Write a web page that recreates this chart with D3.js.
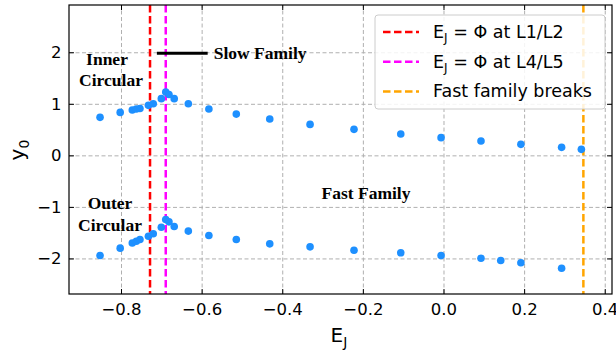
<!DOCTYPE html>
<html>
<head>
<meta charset="utf-8">
<script src="https://cdn.jsdelivr.net/npm/d3@7"></script>
<style>
body { margin: 0; background: #fff; }
text { font-family: "DejaVu Sans", sans-serif; }
.grid line { stroke: #b0b0b0; stroke-dasharray: 4,2.5; stroke-width: 1; }
.grid path { display: none; }
.axis path { display: none; }
.axis line { stroke: #000; }
.serif { font-family: "Liberation Serif", "DejaVu Serif", serif; font-weight: bold; }
</style>
</head>
<body>
<div id="chart-area"></div>
<script>
// Datos
var upperE = [-0.852, -0.802, -0.772, -0.762, -0.753, -0.732, -0.720, -0.700, -0.689, -0.681, -0.668, -0.633, -0.582, -0.514, -0.431, -0.331, -0.222, -0.106, -0.006, 0.093, 0.192, 0.293, 0.342];
var upperY = [0.737, 0.833, 0.88, 0.90, 0.91, 0.97, 1.0, 1.10, 1.23, 1.18, 1.10, 1.0, 0.90, 0.80, 0.705, 0.60, 0.504, 0.415, 0.343, 0.279, 0.213, 0.155, 0.116];
var lowerE = [-0.852, -0.802, -0.772, -0.762, -0.753, -0.732, -0.720, -0.700, -0.689, -0.681, -0.668, -0.633, -0.582, -0.514, -0.431, -0.331, -0.222, -0.106, -0.006, 0.093, 0.142, 0.192, 0.293];
var lowerY = [-1.944, -1.80, -1.70, -1.667, -1.634, -1.57, -1.52, -1.395, -1.246, -1.29, -1.38, -1.47, -1.556, -1.634, -1.717, -1.775, -1.84, -1.89, -1.944, -1.996, -2.04, -2.085, -2.19];
var xTicks = [-0.8, -0.6, -0.4, -0.2, 0.0, 0.2, 0.4];
var yTicks = [-2, -1, 0, 1, 2];
var vLines = [-0.728, -0.689, 0.347];
var vColors = ["#ff0000", "#ff00ff", "#ffa500"];
var legendLabels = ["at L1/L2", "at L4/L5", "Fast family breaks"];
var slowLine = [-0.711, -0.585];

var width = 543;
var height = 289;
var margin = {top: 5, right: 4, bottom: 60, left: 69};

var svg = d3.select("#chart-area")
    .append("svg")
    .attr("width", width + margin.left + margin.right)
    .attr("height", height + margin.top + margin.bottom);

var g = svg.append("g")
    .attr("transform", "translate(" + margin.left + "," + margin.top + ")");

var x = d3.scaleLinear().domain([-0.929, 0.418]).range([0, width]);
var y = d3.scaleLinear().domain([-2.69, 2.917]).range([height, 0]);

// Grid
g.append("g").attr("class", "grid")
    .attr("transform", "translate(0," + height + ")")
    .call(d3.axisBottom(x).tickValues(xTicks).tickSize(-height).tickFormat(""));
g.append("g").attr("class", "grid")
    .call(d3.axisLeft(y).tickValues(yTicks).tickSize(-width).tickFormat(""));

// Lineas verticales
vLines.forEach(function(v, i) {
    g.append("line")
        .attr("x1", x(v)).attr("x2", x(v))
        .attr("y1", 0).attr("y2", height)
        .attr("stroke", vColors[i])
        .attr("stroke-width", 2.5)
        .attr("stroke-dasharray", "7.5,3.5");
});

// Puntos
var pts = upperE.map(function(e, i) { return {e: e, y: upperY[i]}; })
    .concat(lowerE.map(function(e, i) { return {e: e, y: lowerY[i]}; }));
g.selectAll("circle").data(pts).enter().append("circle")
    .attr("cx", function(d) { return x(d.e); })
    .attr("cy", function(d) { return y(d.y); })
    .attr("r", 3.8)
    .attr("fill", "#1e90ff");

// Slow family
g.append("line")
    .attr("x1", x(slowLine[0])).attr("x2", x(slowLine[1]))
    .attr("y1", y(1.98)).attr("y2", y(1.98))
    .attr("stroke", "#000").attr("stroke-width", 3);
g.append("text").attr("class", "serif")
    .attr("x", x(slowLine[1]) + 6).attr("y", y(1.98) + 6)
    .attr("font-size", "17.5px").text("Slow Family");

// Anotaciones
function label(txt, cx, cy) {
    g.append("text").attr("class", "serif")
        .attr("x", cx - margin.left).attr("y", cy - margin.top + 6)
        .attr("text-anchor", "middle")
        .attr("font-size", "17.5px").text(txt);
}
label("Inner", 107, 59);
label("Circular", 111, 80);
label("Outer", 110, 203);
label("Circular", 110, 225);
label("Fast Family", 366, 193);

// Ejes (ticks hacia adentro, en los cuatro lados)
var bottom = g.append("g").attr("class", "axis")
    .attr("transform", "translate(0," + height + ")")
    .call(d3.axisBottom(x).tickValues(xTicks).tickSizeInner(-5).tickSizeOuter(0).tickPadding(9)
        .tickFormat(function(d) { return d3.format(".1f")(d).replace("-", "\u2212"); }));
bottom.selectAll("text").attr("font-size", "16.5px").attr("fill", "#000");
g.append("g").attr("class", "axis")
    .call(d3.axisTop(x).tickValues(xTicks).tickSizeInner(-5).tickSizeOuter(0).tickFormat(""));
var left = g.append("g").attr("class", "axis")
    .call(d3.axisLeft(y).tickValues(yTicks).tickSizeInner(-5).tickSizeOuter(0).tickPadding(7.5)
        .tickFormat(function(d) { return String(d).replace("-", "\u2212"); }));
left.selectAll("text").attr("font-size", "16.5px").attr("fill", "#000");
g.append("g").attr("class", "axis")
    .attr("transform", "translate(" + width + ",0)")
    .call(d3.axisRight(y).tickValues(yTicks).tickSizeInner(-5).tickSizeOuter(0).tickFormat(""));

// Marco
g.append("rect").attr("width", width).attr("height", height)
    .attr("fill", "none").attr("stroke", "#000").attr("stroke-width", 1.2);

// Etiquetas de ejes
var xl = svg.append("text").attr("x", 339).attr("y", 342)
    .attr("text-anchor", "middle").attr("font-size", "20px");
xl.append("tspan").text("E");
xl.append("tspan").attr("font-size", "14px").attr("dy", 5).text("J");

var yl = svg.append("text")
    .attr("transform", "translate(24,150) rotate(-90)")
    .attr("text-anchor", "middle").attr("font-size", "20px");
yl.append("tspan").text("y");
yl.append("tspan").attr("font-size", "14px").attr("dy", 5).text("0");

// Leyenda
var leg = svg.append("g").attr("transform", "translate(375,15)");
leg.append("rect").attr("width", 230).attr("height", 94).attr("rx", 3)
    .attr("fill", "#fff").attr("fill-opacity", 0.85)
    .attr("stroke", "#cccccc").attr("stroke-width", 1);
legendLabels.forEach(function(l, i) {
    var yy = 17 + i * 29.7;
    leg.append("line").attr("x1", 8).attr("x2", 44).attr("y1", yy).attr("y2", yy)
        .attr("stroke", vColors[i]).attr("stroke-width", 2.5).attr("stroke-dasharray", "7.5,3.5");
    var t = leg.append("text").attr("x", 58).attr("y", yy + 6).attr("font-size", "17.5px");
    if (i < 2) {
        t.append("tspan").text("E");
        t.append("tspan").attr("font-size", "12px").attr("dy", 4).text("J");
        t.append("tspan").attr("dy", -4).text(" = \u03A6 " + l);
    } else {
        t.text(l);
    }
});
</script>
</body>
</html>
